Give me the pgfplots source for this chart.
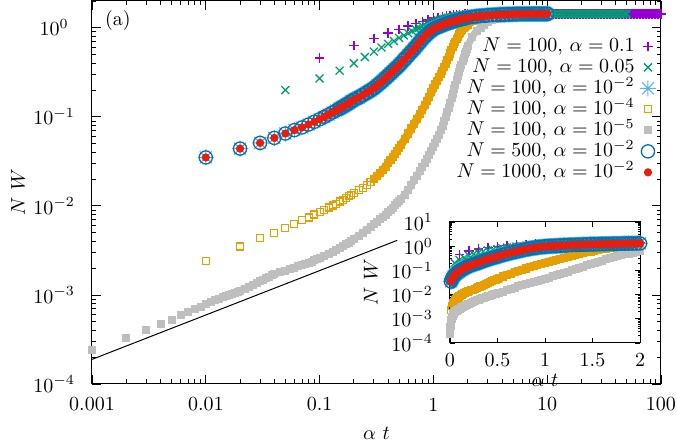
\documentclass[border=0pt]{standalone}
\usepackage{pgfplots}
\usepackage{pgfplotstable}
\pgfplotsset{compat=1.18}

\definecolor{gpPurple}{HTML}{9400D3}
\definecolor{gpGreen}{HTML}{009E73}
\definecolor{gpSky}{HTML}{56B4E9}
\definecolor{gpOrange}{HTML}{E69F00}
\definecolor{gpGray}{HTML}{BEBEBE}
\definecolor{gpBlue}{HTML}{0072B2}
\definecolor{gpRed}{HTML}{E51E10}

% eight-armed star (plus and cross together)
\pgfdeclareplotmark{gpstar}{%
  \pgfpathmoveto{\pgfqpoint{-\pgfplotmarksize}{0pt}}%
  \pgfpathlineto{\pgfqpoint{\pgfplotmarksize}{0pt}}%
  \pgfpathmoveto{\pgfqpoint{0pt}{-\pgfplotmarksize}}%
  \pgfpathlineto{\pgfqpoint{0pt}{\pgfplotmarksize}}%
  \pgfpathmoveto{\pgfqpoint{-0.75\pgfplotmarksize}{-0.75\pgfplotmarksize}}%
  \pgfpathlineto{\pgfqpoint{0.75\pgfplotmarksize}{0.75\pgfplotmarksize}}%
  \pgfpathmoveto{\pgfqpoint{-0.75\pgfplotmarksize}{0.75\pgfplotmarksize}}%
  \pgfpathlineto{\pgfqpoint{0.75\pgfplotmarksize}{-0.75\pgfplotmarksize}}%
  \pgfusepathqstroke}

\pgfplotsset{
  onlymk/.style={only marks,
    legend image code/.code={\path (-4pt,-2pt) (4pt,2pt); \draw[##1] plot coordinates {(0pt,0pt)};}},
  sP/.style={onlymk, mark=+, mark size=2.4pt, color=gpPurple, mark options={draw=gpPurple}, line width=0.8pt},
  sG/.style={onlymk, mark=x, mark size=2.8pt, color=gpGreen, line width=0.65pt},
  sS/.style={onlymk, mark=gpstar, mark size=4pt, color=gpSky, line width=0.5pt},
  sO/.style={onlymk, mark=square, mark size=1.75pt, color=gpOrange, line width=0.55pt},
  sY/.style={onlymk, mark=square*, mark size=1.75pt, color=gpGray, fill=gpGray},
  sB/.style={onlymk, mark=o, mark size=3.3pt, color=gpBlue, line width=0.65pt},
  sR/.style={onlymk, mark=*, mark size=1.85pt, color=gpRed, fill=gpRed},
  % dense runs of overlapping marks merge into a continuous band
  band/.style={no markers, line width=#1, line cap=round, line join=round, forget plot},
}

% N = 100, alpha = 0.1
\pgfplotstableread{
a v
0.1 0.46
0.2 0.63
0.3 0.76
0.4 0.87
0.5 0.96
0.6 1.05
0.7 1.12
0.8 1.18
0.9 1.23
1.0 1.28
1.1 1.31
1.2 1.34
1.3 1.36
1.4 1.38
1.5 1.39
1.6 1.40
1.7 1.41
1.8 1.415
1.9 1.42
2.0 1.42
2.2 1.425
2.4 1.43
2.6 1.43
2.8 1.43
3.0 1.43
3.3 1.43
3.6 1.435
3.9 1.435
4.2 1.435
4.6 1.435
5.0 1.435
5.4 1.435
5.8 1.435
6.3 1.435
6.8 1.435
7.4 1.435
8.0 1.435
8.6 1.435
9.3 1.435
10 1.435
10.6 1.435
11.3 1.435
12 1.435
12.7 1.435
13.5 1.435
14.3 1.435
15.2 1.435
16.2 1.435
17.2 1.435
18.3 1.435
19.4 1.435
20.6 1.435
21.9 1.435
23.3 1.435
24.7 1.435
26.3 1.435
27.9 1.435
29.7 1.435
31.5 1.435
33.5 1.435
35.6 1.435
37.8 1.435
40.2 1.435
42.7 1.435
45.4 1.435
48.3 1.435
51.3 1.435
54.5 1.435
57.9 1.435
61.6 1.435
65.5 1.435
69.6 1.435
74 1.435
78.6 1.435
83.5 1.435
88.8 1.435
94.4 1.435
100 1.435
}\tabP

% N = 100, alpha = 0.05
\pgfplotstableread{
a v
0.05 0.20
0.10 0.27
0.15 0.33
0.20 0.40
0.25 0.47
0.30 0.54
0.35 0.60
0.40 0.66
0.45 0.71
0.50 0.77
0.55 0.82
0.60 0.87
0.65 0.92
0.70 0.96
0.75 1.00
0.80 1.04
0.85 1.07
0.90 1.10
0.95 1.13
1.00 1.16
1.05 1.185
1.10 1.21
1.15 1.23
1.20 1.25
1.25 1.265
1.30 1.28
1.35 1.295
1.40 1.31
1.45 1.32
1.50 1.33
1.55 1.34
1.60 1.35
1.65 1.36
1.70 1.37
1.75 1.375
1.80 1.38
1.85 1.385
1.90 1.39
1.95 1.395
2.00 1.40
2.2 1.41
2.4 1.415
2.6 1.42
2.8 1.425
3.0 1.43
3.3 1.43
3.6 1.43
3.9 1.435
4.2 1.435
4.6 1.435
5.0 1.435
5.4 1.435
5.8 1.435
6.3 1.435
6.8 1.435
7.4 1.435
8.0 1.435
8.6 1.435
9.3 1.435
10 1.435
10.6 1.435
11.3 1.435
12 1.435
12.7 1.435
13.5 1.435
14.3 1.435
15.2 1.435
16.2 1.435
17.2 1.435
18.3 1.435
19.4 1.435
20.6 1.435
21.9 1.435
23.3 1.435
24.7 1.435
26.3 1.435
27.9 1.435
29.7 1.435
31.5 1.435
33.5 1.435
35.6 1.435
37.8 1.435
40.2 1.435
42.7 1.435
45.4 1.435
48.3 1.435
50 1.435
}\tabG

% alpha = 1e-2 (N = 100, 500 and 1000 coincide)
\pgfplotstableread{
a v
0.01 0.035
0.02 0.044
0.03 0.051
0.04 0.058
0.05 0.065
0.06 0.071
0.07 0.076
0.08 0.082
0.09 0.088
0.10 0.094
0.11 0.100
0.12 0.106
0.13 0.112
0.14 0.118
0.15 0.124
0.16 0.130
0.17 0.136
0.18 0.142
0.19 0.149
0.20 0.155
0.22 0.165
0.24 0.176
0.26 0.187
0.28 0.198
0.30 0.210
0.32 0.225
0.34 0.240
0.36 0.256
0.38 0.273
0.40 0.290
0.42 0.307
0.44 0.325
0.46 0.343
0.48 0.361
0.50 0.380
0.52 0.401
0.56 0.445
0.60 0.490
0.64 0.537
0.68 0.585
0.72 0.637
0.76 0.692
0.80 0.750
0.84 0.800
0.88 0.847
0.92 0.892
0.96 0.934
1.00 0.970
1.04 0.995
1.08 1.017
1.12 1.037
1.16 1.056
1.20 1.075
1.24 1.093
1.28 1.110
1.32 1.126
1.36 1.140
1.40 1.153
1.44 1.166
1.48 1.178
1.52 1.190
1.56 1.201
1.60 1.211
1.64 1.221
1.68 1.231
1.72 1.240
1.76 1.249
1.80 1.258
1.84 1.266
1.88 1.274
1.92 1.282
1.96 1.290
2.00 1.298
2.2 1.320
2.4 1.340
2.6 1.355
2.8 1.365
3.0 1.375
3.3 1.385
3.6 1.395
3.9 1.405
4.2 1.410
4.6 1.415
5.0 1.420
5.4 1.425
5.8 1.430
6.3 1.430
6.8 1.430
7.4 1.435
8.0 1.435
8.6 1.435
9.3 1.435
10 1.435
}\tabB

% N = 100, alpha = 1e-4
\pgfplotstableread{
a v
0.01 0.0024
0.02 0.0035
0.03 0.0044
0.04 0.0050
0.05 0.0057
0.06 0.0063
0.07 0.0069
0.08 0.0074
0.09 0.0080
0.10 0.0085
0.11 0.0090
0.12 0.0096
0.13 0.0101
0.14 0.0106
0.15 0.0112
0.16 0.0117
0.17 0.0123
0.18 0.0128
0.19 0.0134
0.20 0.0140
0.22 0.0150
0.24 0.0160
0.26 0.0172
0.28 0.0185
0.30 0.0200
0.32 0.0216
0.34 0.0234
0.36 0.0253
0.38 0.0275
0.40 0.0300
0.42 0.0326
0.44 0.0355
0.46 0.0386
0.48 0.0418
0.50 0.0450
0.52 0.0485
0.56 0.056
0.60 0.065
0.64 0.074
0.68 0.084
0.72 0.095
0.76 0.107
0.80 0.120
0.84 0.135
0.88 0.151
0.92 0.169
0.96 0.189
1.00 0.210
1.04 0.231
1.08 0.253
1.12 0.278
1.16 0.305
1.20 0.330
1.24 0.360
1.28 0.393
1.32 0.430
1.36 0.470
1.40 0.515
1.44 0.560
1.48 0.606
1.52 0.652
1.56 0.700
1.60 0.750
1.64 0.797
1.68 0.842
1.72 0.883
1.76 0.920
1.80 0.955
1.84 0.985
1.88 1.013
1.92 1.040
1.96 1.065
2.00 1.09
2.2 1.18
2.4 1.24
2.6 1.28
2.8 1.31
3.0 1.33
3.3 1.355
3.6 1.37
3.9 1.385
4.2 1.395
4.6 1.405
5.0 1.41
5.4 1.415
5.8 1.42
6.3 1.425
6.8 1.425
7.4 1.43
8.0 1.43
8.6 1.43
9.3 1.43
10 1.43
}\tabO

% N = 100, alpha = 1e-5
\pgfplotstableread{
a v
0.001 2.4e-4
0.002 3.3e-4
0.003 4.0e-4
0.004 4.7e-4
0.005 5.3e-4
0.006 5.9e-4
0.007 6.4e-4
0.008 6.9e-4
0.009 7.4e-4
0.010 8.0e-4
0.011 8.3e-4
0.012 8.7e-4
0.013 9.0e-4
0.014 9.4e-4
0.015 9.7e-4
0.016 1.00e-3
0.017 1.03e-3
0.018 1.06e-3
0.019 1.09e-3
0.020 1.12e-3
0.022 1.18e-3
0.024 1.24e-3
0.026 1.30e-3
0.028 1.36e-3
0.030 1.42e-3
0.032 1.48e-3
0.034 1.54e-3
0.036 1.60e-3
0.038 1.66e-3
0.040 1.71e-3
0.045 1.80e-3
0.050 1.88e-3
0.055 1.96e-3
0.060 2.03e-3
0.065 2.10e-3
0.070 2.17e-3
0.075 2.24e-3
0.080 2.31e-3
0.085 2.38e-3
0.090 2.45e-3
0.095 2.52e-3
0.100 2.60e-3
0.11 2.75e-3
0.12 2.90e-3
0.13 3.05e-3
0.14 3.20e-3
0.15 3.36e-3
0.16 3.53e-3
0.17 3.70e-3
0.18 3.88e-3
0.19 4.06e-3
0.20 4.25e-3
0.22 4.6e-3
0.24 5.0e-3
0.26 5.4e-3
0.28 5.8e-3
0.30 6.2e-3
0.32 6.6e-3
0.34 7.1e-3
0.36 7.6e-3
0.38 8.0e-3
0.40 8.5e-3
0.42 9.0e-3
0.44 9.6e-3
0.46 1.02e-2
0.48 1.07e-2
0.50 1.13e-2
0.52 1.20e-2
0.56 1.34e-2
0.60 1.51e-2
0.64 1.70e-2
0.68 1.97e-2
0.72 2.20e-2
0.76 2.45e-2
0.80 2.73e-2
0.84 3.03e-2
0.88 3.37e-2
0.92 3.75e-2
0.96 4.17e-2
1.00 4.63e-2
1.04 5.12e-2
1.08 5.66e-2
1.12 6.30e-2
1.16 7.05e-2
1.20 0.079
1.24 0.089
1.28 0.100
1.32 0.113
1.36 0.127
1.40 0.145
1.44 0.163
1.48 0.183
1.52 0.205
1.56 0.230
1.60 0.257
1.64 0.285
1.68 0.318
1.72 0.352
1.76 0.388
1.80 0.425
1.84 0.463
1.88 0.503
1.92 0.543
1.96 0.583
2.00 0.622
2.2 0.80
2.4 0.93
2.6 1.01
2.8 1.09
3.0 1.15
3.3 1.22
3.6 1.28
3.9 1.32
4.2 1.35
4.6 1.38
5.0 1.40
5.4 1.41
5.8 1.42
6.3 1.425
6.8 1.43
7.4 1.43
8.0 1.43
8.6 1.43
9.3 1.43
10 1.43
}\tabS

\begin{document}
\begin{tikzpicture}
\begin{axis}[
  name=main,
  scale only axis, width=284.5pt, height=191.5pt,
  xmode=log, ymode=log,
  xmin=0.001, xmax=100, ymin=1e-4, ymax=2,
  xtick={0.001,0.01,0.1,1,10,100},
  xticklabels={0.001,0.01,0.1,1,10,100},
  minor xtick={0.002,0.003,0.004,0.005,0.006,0.007,0.008,0.009,
    0.02,0.03,0.04,0.05,0.06,0.07,0.08,0.09,
    0.2,0.3,0.4,0.5,0.6,0.7,0.8,0.9,
    2,3,4,5,6,7,8,9,20,30,40,50,60,70,80,90},
  ytick={1e-4,1e-3,1e-2,1e-1,1},
  minor ytick={2e-4,3e-4,4e-4,5e-4,6e-4,7e-4,8e-4,9e-4,
    2e-3,3e-3,4e-3,5e-3,6e-3,7e-3,8e-3,9e-3,
    0.02,0.03,0.04,0.05,0.06,0.07,0.08,0.09,
    0.2,0.3,0.4,0.5,0.6,0.7,0.8,0.9,2},
  major tick length=4.5pt, minor tick length=2.25pt,
  every tick/.style={black, line width=0.4pt},
  axis line style={line width=0.5pt},
  xlabel={$\alpha\ t$}, ylabel={$N\ W$},
  x label style={at={(axis description cs:0.5,-0.128)}, anchor=center},
  y label style={at={(axis description cs:-0.13,0.5)}, anchor=center},
  xticklabel style={anchor=center, yshift=-10.25pt},
  yticklabel style={anchor=center, xshift=-19pt},
  legend cell align=right, legend plot pos=right,
  legend style={draw=none, fill=none, at={(axis description cs:0.9933,0.91)},
    anchor=north east, inner sep=0pt, row sep=0pt, column sep=1.5pt,
    nodes={inner sep=0.75pt, text height=7pt, text depth=2pt}},
]
% square-root guide
\addplot[black, line width=0.5pt, forget plot] coordinates {(0.001,1.89e-4) (0.48,4.1e-3)};

\addplot[band=4.6pt, gpPurple, skip coords between index={0}{24}] table[x=a,y=v] {\tabP};
\addplot[sP] table[x=a,y=v] {\tabP};
\addlegendentry{$N=100$, $\alpha=0.1$}
\addplot[band=4.2pt, gpGreen, skip coords between index={0}{39}] table[x=a,y=v] {\tabG};
\addplot[sG] table[x=a,y=v] {\tabG};
\addlegendentry{$N=100$, $\alpha=0.05$}
\addplot[band=8pt, gpSky, skip coords between index={0}{14}] table[x=a,y=v] {\tabB};
\addplot[sS] table[x=a,y=v] {\tabB};
\addlegendentry{$N=100$, $\alpha=10^{-2}$}
\addplot[band=4pt, gpOrange, skip coords between index={0}{24}] table[x=a,y=v] {\tabO};
\addplot[sO] table[x=a,y=v] {\tabO};
\addlegendentry{$N=100$, $\alpha=10^{-4}$}
\addplot[band=3.5pt, gpGray, skip coords between index={0}{11}] table[x=a,y=v] {\tabS};
\addplot[sY] table[x=a,y=v] {\tabS};
\addlegendentry{$N=100$, $\alpha=10^{-5}$}
\addplot[band=7.2pt, gpBlue, skip coords between index={0}{14}] table[x=a,y=v] {\tabB};
\addplot[sB] table[x=a,y=v] {\tabB};
\addlegendentry{$N=500$, $\alpha=10^{-2}$}
\addplot[band=3.7pt, gpRed, skip coords between index={0}{14}] table[x=a,y=v] {\tabB};
\addplot[sR] table[x=a,y=v] {\tabB};
\addlegendentry{$N=1000$, $\alpha=10^{-2}$}

\node at (axis description cs:0.0457,0.948) {(a)};
\end{axis}

% inset: linear time axis
\begin{axis}[
  at={(179pt,20.5pt)}, anchor=south west,
  scale only axis, width=95pt, height=60.5pt,
  ymode=log, xmin=0, xmax=2, ymin=1e-4, ymax=10,
  xtick={0,0.5,1,1.5,2},
  ytick={1e-4,1e-3,1e-2,1e-1,1,10},
  minor ytick={2e-4,3e-4,4e-4,5e-4,6e-4,7e-4,8e-4,9e-4,
    2e-3,3e-3,4e-3,5e-3,6e-3,7e-3,8e-3,9e-3,
    0.02,0.03,0.04,0.05,0.06,0.07,0.08,0.09,
    0.2,0.3,0.4,0.5,0.6,0.7,0.8,0.9,2,3,4,5,6,7,8,9},
  major tick length=2.5pt, minor tick length=1.2pt,
  every tick/.style={black, line width=0.4pt},
  axis line style={line width=0.5pt},
  axis background/.style={fill=white},
  xlabel={$\alpha\ t$}, ylabel={$N\ W$},
  x label style={yshift=3pt},
  xticklabel style={anchor=center, yshift=-8.5pt},
  yticklabel style={anchor=east, xshift=-5pt},
]
\addplot[sP, restrict x to domain=0:2] table[x=a,y=v] {\tabP};
\addplot[band=4.2pt, gpGreen, restrict x to domain=1:2] table[x=a,y=v] {\tabG};
\addplot[sG, restrict x to domain=0:2] table[x=a,y=v] {\tabG};
\addplot[band=8pt, gpSky, restrict x to domain=0:2] table[x=a,y=v] {\tabB};
\addplot[sS, restrict x to domain=0:2] table[x=a,y=v] {\tabB};
\addplot[band=4pt, gpOrange, restrict x to domain=0:2] table[x=a,y=v] {\tabO};
\addplot[sO, restrict x to domain=0:2] table[x=a,y=v] {\tabO};
\addplot[band=3.5pt, gpGray, restrict x to domain=0:2] table[x=a,y=v] {\tabS};
\addplot[sY, restrict x to domain=0:2] table[x=a,y=v] {\tabS};
\addplot[band=7.2pt, gpBlue, restrict x to domain=0:2] table[x=a,y=v] {\tabB};
\addplot[sB, restrict x to domain=0:2] table[x=a,y=v] {\tabB};
\addplot[band=3.7pt, gpRed, restrict x to domain=0:2] table[x=a,y=v] {\tabB};
\addplot[sR, restrict x to domain=0:2] table[x=a,y=v] {\tabB};
\end{axis}

\pgfresetboundingbox
\path[use as bounding box] (-46pt,-29.5pt) rectangle (292.5pt,192pt);
\end{tikzpicture}
\end{document}
